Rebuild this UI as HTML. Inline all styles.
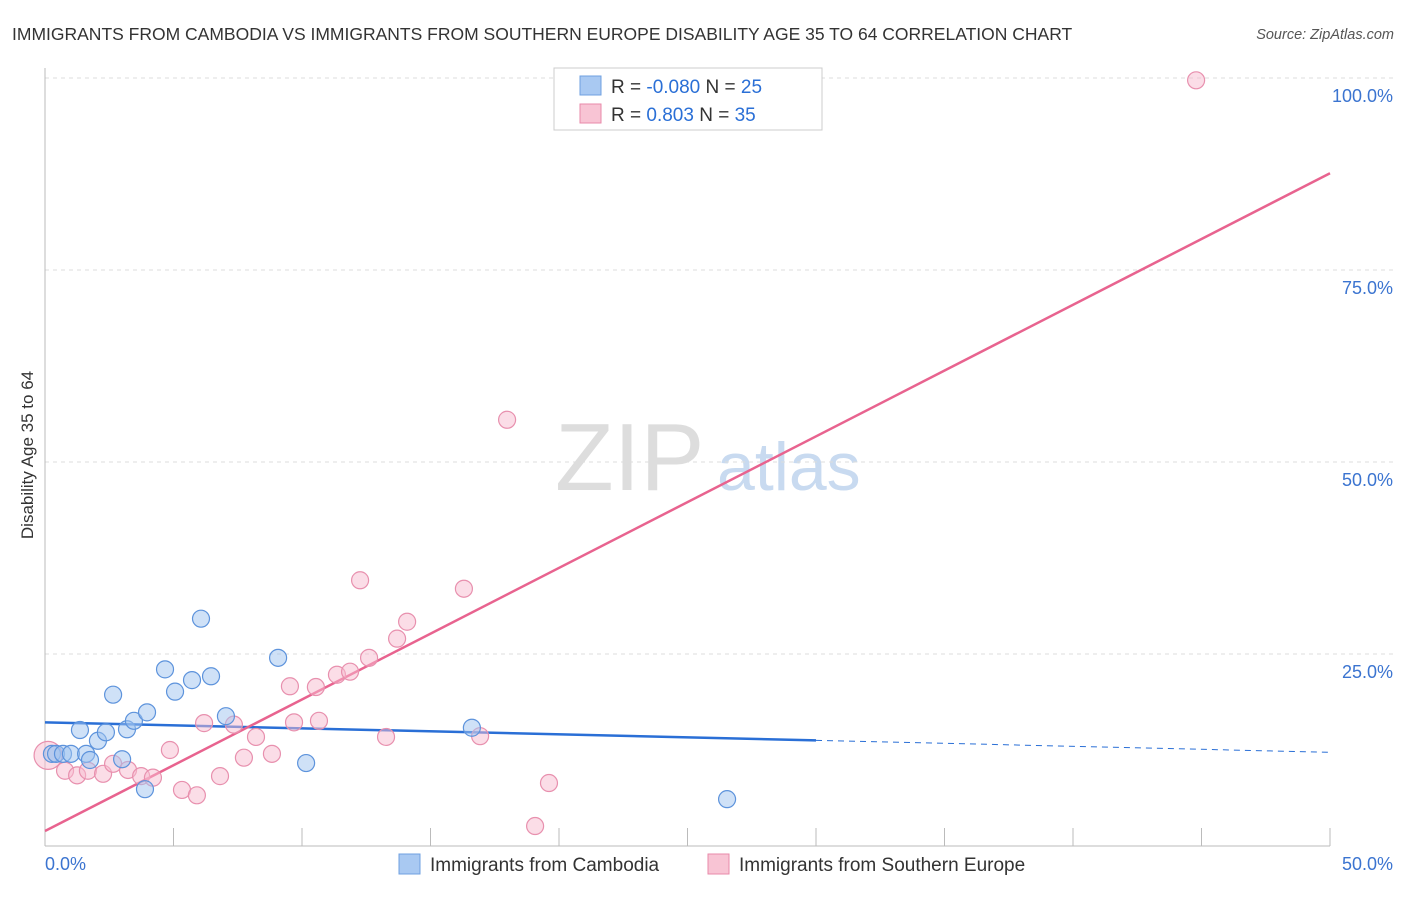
<!DOCTYPE html>
<html><head><meta charset="utf-8"><style>
body{margin:0;background:#fff;font-family:"Liberation Sans",sans-serif;}
svg text{font-family:"Liberation Sans",sans-serif;}
</style></head><body>
<svg id="chart" width="1406" height="892" viewBox="0 0 1406 892" xmlns="http://www.w3.org/2000/svg">
<text x="12" y="40" font-size="17.5" fill="#333">IMMIGRANTS FROM CAMBODIA VS IMMIGRANTS FROM SOUTHERN EUROPE DISABILITY AGE 35 TO 64 CORRELATION CHART</text>
<text x="1394" y="39" font-size="14.5" fill="#555" font-style="italic" text-anchor="end">Source: ZipAtlas.com</text>
<text transform="translate(33,455) rotate(-90)" font-size="17" fill="#333" text-anchor="middle">Disability Age 35 to 64</text>
<g><text x="555" y="490" font-size="96" fill="#ddd" font-family="Liberation Serif,serif">ZIP</text><text x="717" y="490" font-size="68" fill="#c8daf0">atlas</text></g>
<g id="grid"></g><g id="axes"></g><g id="trend"></g><g id="pts"></g>
<g>
<rect x="554" y="68" width="268" height="62" fill="#fff" stroke="#ccc"/>
<rect x="580" y="76" width="21" height="19" fill="#a9c9f2" stroke="#6fa0e0"/>
<rect x="580" y="104" width="21" height="19" fill="#f8c4d4" stroke="#e88aaa"/>
<text x="611" y="93" font-size="19" fill="#333">R = <tspan fill="#2a6fd6">-0.080</tspan>   N = <tspan fill="#2a6fd6">25</tspan></text>
<text x="611" y="121" font-size="19" fill="#333">R =   <tspan fill="#2a6fd6">0.803</tspan>   N = <tspan fill="#2a6fd6">35</tspan></text>
</g>
<g>
<rect x="399" y="854" width="21" height="20" fill="#a9c9f2" stroke="#6fa0e0"/>
<text x="430" y="871" font-size="19" fill="#333">Immigrants from Cambodia</text>
<rect x="708" y="854" width="21" height="20" fill="#f8c4d4" stroke="#e88aaa"/>
<text x="739" y="871" font-size="19" fill="#333">Immigrants from Southern Europe</text>
</g>
</svg>
<script>
const blueX=[0.27,0.43,0.70,1.01,1.60,1.36,1.75,2.06,2.37,2.65,3.0,3.19,3.46,3.97,3.89,4.67,5.06,5.72,6.07,6.46,7.04,9.07,10.16,16.61,26.54];
const blueY=[12.0,12.0,12.0,12.0,12.0,15.1,11.2,13.7,14.8,19.7,11.3,15.2,16.3,17.4,7.4,23.0,20.1,21.6,29.6,22.1,16.9,24.5,10.8,15.4,6.1];
const pinkX=[0.12,0.78,1.25,1.67,2.26,2.65,3.23,3.74,4.2,4.86,5.33,5.91,6.19,6.81,7.35,7.74,8.21,8.83,9.53,9.69,10.54,10.66,11.36,11.87,12.26,12.61,13.27,13.7,14.09,16.3,16.93,17.98,19.07,19.61,44.79];
const pinkY=[11.8,9.8,9.2,9.8,9.4,10.7,9.9,9.1,8.9,12.5,7.3,6.6,16.0,9.1,15.8,11.5,14.2,12.0,20.8,16.1,20.7,16.3,22.3,22.7,34.6,24.5,14.2,27.0,29.2,33.5,14.3,55.5,2.6,8.2,99.7];
const blueTrend=[16.1,12.2]; // at x=0 and x=50
const pinkTrend=[1.95,87.6];
const yTicks=[25,50,75,100];
const yTickLabels=["25.0%","50.0%","75.0%","100.0%"];
const xTickLabels=["0.0%","50.0%"];
const NS="http://www.w3.org/2000/svg";
const X=v=>45+v*25.7, Y=v=>846-v*7.68;
function mk(p,t,a){const e=document.createElementNS(NS,t);for(const k in a)e.setAttribute(k,a[k]);document.getElementById(p).appendChild(e);return e;}
yTicks.forEach((t,i)=>{
 const l=mk('grid','line',{x1:45,x2:1393,y1:Y(t),y2:Y(t),stroke:'#ddd','stroke-dasharray':'4,4'});
 
 
 const tx=mk('grid','text',{x:1393,y:Y(t)+24,'font-size':18,fill:'#3b74d0','text-anchor':'end'});tx.textContent=yTickLabels[i];
 
 
});
const ax=mk('axes','line',{x1:45,x2:45,y1:68,y2:846,stroke:'#bbb'});


const bx=mk('axes','line',{x1:45,x2:1330,y1:846,y2:846,stroke:'#bbb'});


for(let k=0;k<=10;k++){const t=mk('axes','line',{x1:X(k*5),x2:X(k*5),y1:828,y2:846,stroke:'#bbb'});
 
 }
[[0,'start'],[50,'end']].forEach((p,i)=>{const t=mk('axes','text',{x:i?1393:45,y:870,'font-size':18,fill:'#3b74d0','text-anchor':p[1]});t.textContent=xTickLabels[i];
 
 });
const bt=v=>blueTrend[0]+(blueTrend[1]-blueTrend[0])*v/50;
const b1=mk('trend','line',{x1:X(0),y1:Y(bt(0)),x2:X(30),y2:Y(bt(30)),stroke:'#2a6fd6','stroke-width':2.5});


const b2=mk('trend','line',{x1:X(30),y1:Y(bt(30)),x2:X(50),y2:Y(bt(50)),stroke:'#2a6fd6','stroke-width':1,'stroke-dasharray':'6,5'});


const p1=mk('trend','line',{x1:X(0),y1:Y(pinkTrend[0]),x2:X(50),y2:Y(pinkTrend[1]),stroke:'#e8638f','stroke-width':2.5});


pinkX.forEach((x,i)=>{const c=mk('pts','circle',{cx:X(x),cy:Y(pinkY[i]),r:i==0?14:8.5,fill:'rgba(248,188,208,0.5)',stroke:'#e890ae','stroke-width':1.2});
 
 });
blueX.forEach((x,i)=>{const c=mk('pts','circle',{cx:X(x),cy:Y(blueY[i]),r:8.5,fill:'rgba(160,196,240,0.5)',stroke:'#5d93dc','stroke-width':1.2});
 
 });
</script>
</body></html>
